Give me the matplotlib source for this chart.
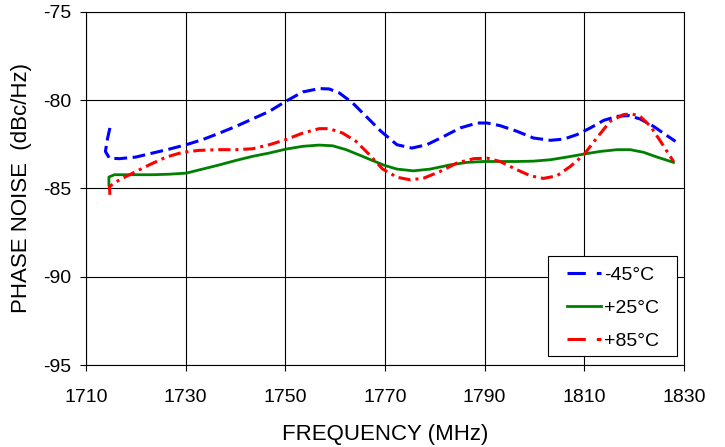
import matplotlib
matplotlib.use("Agg")
import matplotlib.pyplot as plt
import matplotlib.patches as patches

plt.rcParams['font.family'] = ['Liberation Sans', 'DejaVu Sans']
plt.rcParams['axes.unicode_minus'] = False

# -45 C
freq_m45 = [1714.8, 1714.3, 1713.9, 1714.7, 1716.7, 1720.0, 1723.4, 1726.7, 1730.1,
            1733.4, 1736.8, 1740.1, 1743.4, 1746.8, 1750.1, 1753.5, 1756.8, 1758.8,
            1760.8, 1763.5, 1766.2, 1769.2, 1772.4, 1775.4, 1778.4, 1781.8, 1785.1,
            1788.5, 1790.5, 1793.1, 1796.5, 1799.8, 1803.2, 1805.9, 1808.5, 1811.2,
            1813.9, 1816.6, 1818.9, 1821.2, 1823.9, 1826.3, 1828.3]
pn_m45 = [-81.57, -82.2, -82.9, -83.28, -83.31, -83.22, -82.99, -82.77, -82.52,
          -82.23, -81.86, -81.48, -81.06, -80.63, -80.06, -79.53, -79.34, -79.36,
          -79.58, -80.15, -80.91, -81.76, -82.52, -82.71, -82.52, -82.05, -81.57,
          -81.29, -81.29, -81.44, -81.76, -82.14, -82.27, -82.2, -81.95, -81.57,
          -81.14, -80.91, -80.87, -81.06, -81.48, -81.95, -82.33]

# +25 C
freq_p25 = [1714.6, 1714.6, 1715.7, 1720.0, 1723.4, 1726.7, 1730.1, 1733.4, 1736.8,
            1740.1, 1743.4, 1746.8, 1750.1, 1753.5, 1756.8, 1759.5, 1762.2, 1765.5,
            1769.8, 1772.4, 1775.7, 1779.1, 1783.1, 1786.5, 1789.8, 1793.1, 1796.5,
            1799.8, 1803.2, 1806.5, 1809.9, 1813.2, 1816.6, 1819.2, 1821.9, 1824.6,
            1827.9]
pn_p25 = [-84.8, -84.35, -84.22, -84.22, -84.22, -84.19, -84.13, -83.9, -83.66,
          -83.41, -83.18, -82.99, -82.77, -82.61, -82.54, -82.58, -82.8, -83.18,
          -83.68, -83.9, -84.0, -83.9, -83.66, -83.52, -83.47, -83.47, -83.47,
          -83.45, -83.37, -83.22, -83.05, -82.9, -82.8, -82.8, -82.95, -83.22,
          -83.52]

# +85 C
freq_p85 = [1714.8, 1714.7, 1716.7, 1719.4, 1722.7, 1726.1, 1729.4, 1732.7, 1736.8,
            1740.1, 1743.4, 1746.8, 1750.1, 1753.5, 1756.8, 1758.8, 1761.5, 1764.2,
            1766.9, 1769.5, 1772.4, 1775.1, 1777.8, 1781.1, 1784.4, 1787.8, 1790.5,
            1793.1, 1796.5, 1799.2, 1801.8, 1804.5, 1807.2, 1809.9, 1812.5, 1815.2,
            1817.9, 1819.6, 1821.2, 1823.3, 1825.3, 1827.9]
pn_p85 = [-85.36, -84.89, -84.51, -84.13, -83.66, -83.22, -82.95, -82.84, -82.8,
          -82.8, -82.75, -82.52, -82.23, -81.86, -81.61, -81.61, -81.86, -82.33,
          -83.09, -83.89, -84.36, -84.51, -84.41, -84.03, -83.56, -83.31, -83.28,
          -83.47, -83.94, -84.28, -84.43, -84.28, -83.75, -83.09, -82.14, -81.19,
          -80.81, -80.78, -80.91, -81.48, -82.33, -83.47]

x_ticks = [1710, 1730, 1750, 1770, 1790, 1810, 1830]
y_ticks = [-95, -90, -85, -80, -75]

fig = plt.figure(figsize=(7.25, 4.47), dpi=100)
ax = fig.add_axes([0.1186, 0.1834, 0.8248, 0.7898])

ax.plot(freq_m45, pn_m45, color='#0000FF', lw=2.2, linestyle=(0, (4.2, 1.8)),
        label='-45°C')
ax.plot(freq_p25, pn_p25, color='#008000', lw=2.0, label='+25°C')
ax.plot(freq_p85, pn_p85, color='#FF0000', lw=2.2, linestyle=(0, (4, 1.6, 1, 1.6)),
        label='+85°C')

ax.set_xlim(1710, 1830)
ax.set_ylim(-95, -75)
ax.set_xticks(x_ticks)
ax.set_yticks(y_ticks)
ax.grid(True, color='black', linewidth=0.8)
ax.set_axisbelow(True)
ax.tick_params(direction='out', length=4.5, width=0.8, labelsize=14)
ax.tick_params(axis='x', pad=12.5)
ax.tick_params(axis='y', pad=6)
for s in ax.spines.values():
    s.set_linewidth(0.8)

ax.set_xlabel('FREQUENCY (MHz)', fontsize=16, labelpad=13)
ax.set_ylabel('PHASE NOISE  (dBc/Hz)', fontsize=16, labelpad=8)

# legend box drawn separately so the inner padding matches the reference
frame = patches.Rectangle((0.7726, 0.0255), 0.2154, 0.2833, transform=ax.transAxes,
                          facecolor='white', edgecolor='black', linewidth=0.8,
                          zorder=4)
ax.add_patch(frame)
leg = ax.legend(loc='upper left', bbox_to_anchor=(0.804, 0.279), fontsize=14,
                frameon=False, borderpad=0, borderaxespad=0,
                handlelength=1.75, labelspacing=0.78, handletextpad=0.15)
leg.set_zorder(5)
for ln in (leg.get_lines()[0], leg.get_lines()[2]):
    ln.set_linestyle((0, (6, 3.6, 1.7, 10)))

fig.savefig('out.png', dpi=100, facecolor='white')
